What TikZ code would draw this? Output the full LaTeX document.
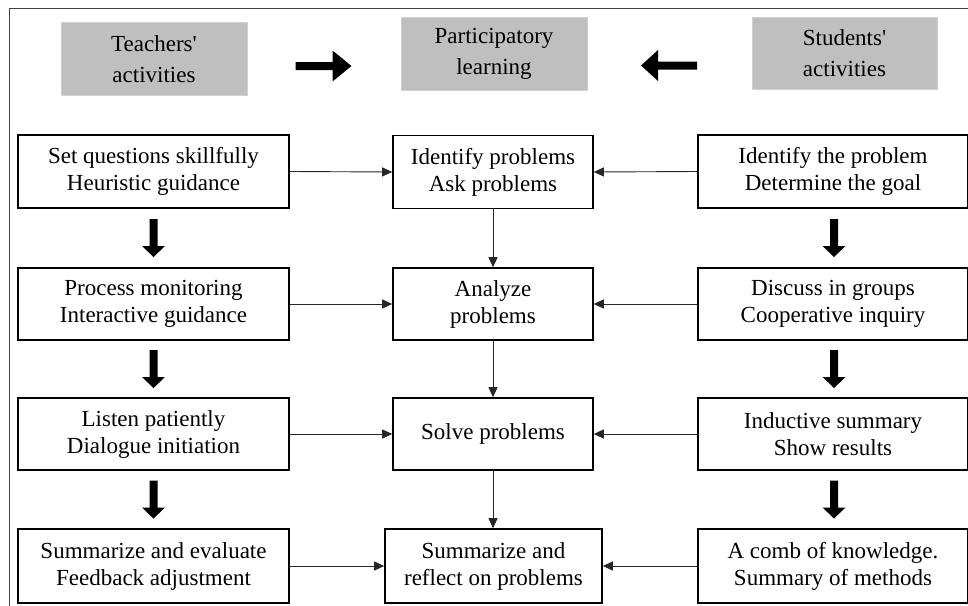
\documentclass[tikz,border=0pt]{standalone}
\usepackage{fontspec}
\setmainfont{Liberation Serif}
\usetikzlibrary{arrows.meta,calc}
\begin{document}
\begin{tikzpicture}[x=1pt,y=-1pt,
  txt/.style={font=\fontsize{23}{27}\selectfont, align=center, inner sep=0pt},
  head/.style={txt, fill=hgray, draw=hborder, line width=0.8pt, minimum width=186pt, minimum height=73pt, font=\fontsize{23}{31}\selectfont},
  box/.style={txt, draw=black, line width=1.6pt, fill=white, minimum height=73pt},
  thin/.style={draw=black!85, line width=0.9pt, -{Triangle[length=10pt,width=9pt]}},
  downarr/.pic={\fill[black] (-4,-19) -- (4,-19) -- (4,8) -- (11.5,8) -- (0,19) -- (-11.5,8) -- (-4,8) -- cycle;},
  rightarr/.pic={\fill[black] (-28,-4) -- (9,-4) -- (9,-15.5) -- (28,0) -- (9,15.5) -- (9,4) -- (-28,4) -- cycle;},
  leftarr/.pic={\fill[black] (28,-4) -- (-11,-4) -- (-11,-15.5) -- (-28,0) -- (-11,15.5) -- (-11,4) -- (28,4) -- cycle;}
]
\definecolor{hgray}{HTML}{BFBFBF}
\definecolor{hborder}{HTML}{D0D0D0}
\useasboundingbox (0,0) rectangle (968,605);
\fill[white] (0,0) rectangle (968,605);
% frame
\draw[line width=1pt, black!75] (9,606) -- (9,8) -- (969,8);
% headers
\node[head] (ht) at (154,59) {Teachers\textquotesingle\\activities};
\node[head] (hp) at (494,53.5) {Participatory\\learning};
\node[head, minimum width=185pt, minimum height=72pt] (hs) at (844.5,53) {Students\textquotesingle\\activities};
\pic at (323.5,66) {rightarr};
\pic at (669,65.5) {leftarr};
% left column
\node[box, minimum width=271pt] (l1) at (153.5,171.5) {Set questions skillfully\\Heuristic guidance};
\node[box, minimum width=271pt, minimum height=72pt] (l2) at (153.5,304) {Process monitoring\\Interactive guidance};
\node[box, minimum width=271pt, minimum height=72pt] (l3) at (153.5,434) {Listen patiently\\Dialogue initiation};
\node[box, minimum width=271pt, minimum height=74pt] (l4) at (153.5,566) {Summarize and evaluate\\Feedback adjustment};
% middle column
\node[box, minimum width=200pt] (m1) at (493,172) {Identify problems\\Ask problems};
\node[box, minimum width=200pt, minimum height=72pt] (m2) at (493,304) {Analyze\\problems};
\node[box, minimum width=200pt, minimum height=72pt] (m3) at (493,434) {Solve problems};
\node[box, minimum width=217pt, minimum height=74pt] (m4) at (493.5,566) {Summarize and\\reflect on problems};
% right column
\node[box, minimum width=270pt] (r1) at (833,171.5) {Identify the problem\\Determine the goal};
\node[box, minimum width=270pt, minimum height=72pt] (r2) at (833,304) {Discuss in groups\\Cooperative inquiry};
\node[box, minimum width=270pt, minimum height=72pt] (r3) at (833,434) {Inductive summary\\Show results};
\node[box, minimum width=270pt, minimum height=74pt] (r4) at (833,566) {A comb of knowledge.\\Summary of methods};
% thin connectors
\foreach \i in {1,2,3,4}{
  \draw[thin] (l\i.east) -- (m\i.west);
  \draw[thin] (r\i.west) -- (m\i.east);
}
\draw[thin] (m1.south) -- (m2.north);
\draw[thin] (m2.south) -- (m3.north);
\draw[thin] (m3.south) -- (m3.south |- m4.north);
% block arrows
\pic at ($(l1.south)!0.5!(l2.north)$) {downarr};
\pic at ($(l2.south)!0.5!(l3.north)$) {downarr};
\pic at ($(l3.south)!0.5!(l4.north)$) {downarr};
\pic at ($(r1.south)!0.5!(r2.north)+(1,0)$) {downarr};
\pic at ($(r2.south)!0.5!(r3.north)+(1,0)$) {downarr};
\pic at ($(r3.south)!0.5!(r4.north)+(1,0)$) {downarr};
\end{tikzpicture}
\end{document}
